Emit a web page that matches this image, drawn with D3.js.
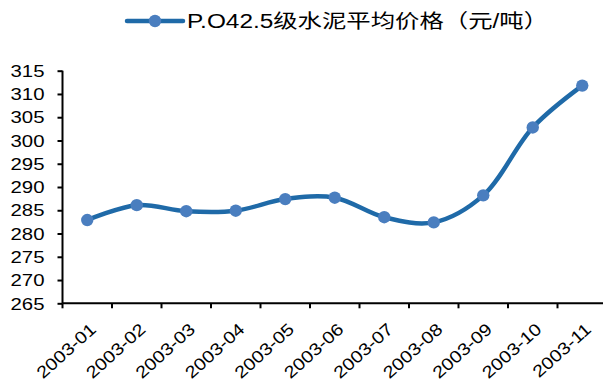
<!DOCTYPE html>
<html>
<head>
<meta charset="utf-8">
<script src="https://cdn.jsdelivr.net/npm/d3@7"></script>
<style>
  html, body { margin: 0; padding: 0; background: #fff; }
  svg { display: block; }
  text { font-family: "Liberation Sans", Arial, "Noto Sans CJK SC", sans-serif; fill: #000; }
</style>
</head>
<body>
<svg id="chart" width="603" height="383"></svg>
<script>
// Monthly average price of P.O42.5 cement, 2003 (yuan / tonne)
const months = ["2003-01", "2003-02", "2003-03", "2003-04", "2003-05", "2003-06",
                "2003-07", "2003-08", "2003-09", "2003-10", "2003-11"];
const prices = [282.9, 286.1, 284.8, 284.9, 287.4, 287.7, 283.5, 282.4, 288.2, 302.8, 311.8];
const yTicks = [265, 270, 275, 280, 285, 290, 295, 300, 305, 310, 315];
const seriesName = "P.O42.5级水泥平均价格（元/吨）";

const lineColor = "#1f6aa8";
const markerColor = "#4a7ebf";
const stretch = 1.25; // horizontal widening applied to labels

const svg = d3.select("#chart");

const plot = { left: 62.5, right: 607, top: 70.7, bottom: 303.3 };

const x = d3.scaleBand().domain(months).range([plot.left, plot.right]).padding(0);
const y = d3.scaleLinear().domain([265, 315]).range([plot.bottom, plot.top]);

// Y axis
const yAxis = svg.append("g")
  .attr("transform", `translate(${plot.left},0)`)
  .call(d3.axisLeft(y).tickValues(yTicks).tickSize(5).tickSizeOuter(0));
yAxis.select(".domain").attr("stroke", "#000").attr("stroke-width", 2)
  .attr("d", `M0,${plot.top}V${plot.bottom}`);
yAxis.selectAll(".tick line").attr("stroke", "#000").attr("stroke-width", 2);
yAxis.selectAll(".tick text")
  .attr("x", 0).attr("dy", "0.35em")
  .attr("transform", `translate(-18,0) scale(${stretch},1)`)
  .style("font-size", "16.3px")
  .style("font-family", '"Liberation Sans", Arial, sans-serif')
  .attr("fill", "#000");

// X axis (ticks between categories)
const xAxis = svg.append("g");
xAxis.append("line")
  .attr("x1", plot.left).attr("x2", plot.right)
  .attr("y1", plot.bottom).attr("y2", plot.bottom)
  .attr("stroke", "#000").attr("stroke-width", 2);
const boundaries = months.map(m => x(m)).concat([x(months[months.length - 1]) + x.bandwidth()]);
xAxis.selectAll("line.tick").data(boundaries).join("line")
  .attr("class", "tick")
  .attr("x1", d => d).attr("x2", d => d)
  .attr("y1", plot.bottom).attr("y2", plot.bottom + 5)
  .attr("stroke", "#000").attr("stroke-width", 2);
xAxis.selectAll("text.xl").data(months).join("text")
  .attr("class", "xl")
  .attr("text-anchor", "end")
  .attr("transform", d => `translate(${x(d) + x.bandwidth() / 2 + 6},${plot.bottom + 23}) rotate(-42) scale(1.17,1)`)
  .attr("dy", "0.35em")
  .style("font-size", "17px")
  .text(d => d);

// Smoothed line
const line = d3.line()
  .x((d, i) => x(months[i]) + x.bandwidth() / 2)
  .y(d => y(d))
  .curve(d3.curveCatmullRom.alpha(0.5));

svg.append("path")
  .datum(prices)
  .attr("d", line)
  .attr("fill", "none")
  .attr("stroke", lineColor)
  .attr("stroke-width", 4.5)
  .attr("stroke-linecap", "round");

svg.selectAll("circle.pt").data(prices).join("circle")
  .attr("class", "pt")
  .attr("cx", (d, i) => x(months[i]) + x.bandwidth() / 2)
  .attr("cy", d => y(d))
  .attr("r", 6.2)
  .attr("fill", markerColor);

// Legend
const legend = svg.append("g");
legend.append("line")
  .attr("x1", 127).attr("x2", 183).attr("y1", 21).attr("y2", 21)
  .attr("stroke", lineColor).attr("stroke-width", 4.5).attr("stroke-linecap", "round");
legend.append("circle")
  .attr("cx", 155).attr("cy", 21).attr("r", 6.2).attr("fill", markerColor);
legend.append("text")
  .attr("transform", `translate(187,28) scale(${stretch},1)`)
  .style("font-size", "19.5px")
  .text(seriesName);
</script>
</body>
</html>
